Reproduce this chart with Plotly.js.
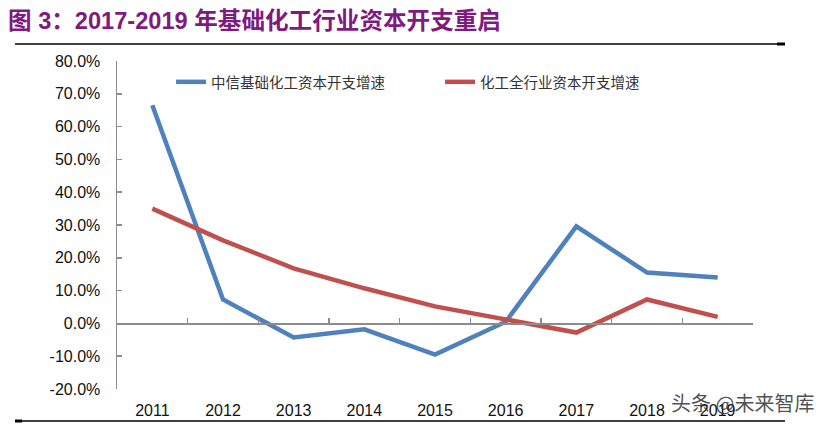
<!DOCTYPE html>
<html>
<head>
<meta charset="utf-8">
<script src="https://cdn.plot.ly/plotly-3.0.1.min.js"></script>
<style>html,body{margin:0;padding:0;background:#fff;}#chart{width:827px;height:425px;}</style>
</head>
<body>
<div id="chart"></div>
<script>
const years = ['2011','2012','2013','2014','2015','2016','2017','2018','2019'];
const citicBasicChem = [66.5, 7.3, -4.3, -1.8, -9.5, 0.5, 29.6, 15.5, 14.0];
const chemWholeIndustry = [35.0, 25.3, 16.8, 10.7, 5.2, 1.2, -2.8, 7.3, 2.0];
const seriesNames = ['中信基础化工资本开支增速', '化工全行业资本开支增速'];
const yTicks = [-20, -10, 0, 10, 20, 30, 40, 50, 60, 70, 80];
const yTickLabels = yTicks.map(v => v.toFixed(1) + '%');
const yMin = -20, yMax = 80;

const fontFamily = 'Liberation Sans, Arial, "Noto Sans CJK SC", sans-serif';

const traces = [
  {x: years, y: citicBasicChem, name: seriesNames[0], type: 'scatter', mode: 'lines',
   line: {color: '#4F81BD', width: 4.5}, xaxis: 'x', yaxis: 'y'},
  {x: years, y: chemWholeIndustry, name: seriesNames[1], type: 'scatter', mode: 'lines',
   line: {color: '#C0504D', width: 4.5}, xaxis: 'x2', yaxis: 'y'}
];

const xRange = [-0.5, years.length - 0.5];

const layout = {
  width: 827, height: 425,
  margin: {l: 117, r: 74, t: 61, b: 36},
  paper_bgcolor: '#ffffff', plot_bgcolor: '#ffffff',
  font: {family: fontFamily, size: 14, color: '#111'},
  showlegend: true,
  legend: {orientation: 'h', x: 0.085, y: 0.985, xanchor: 'left', yanchor: 'top',
           font: {family: '"Noto Sans CJK SC", sans-serif', size: 14.5, color: '#333'},
           entrywidth: 224, entrywidthmode: 'pixels', bgcolor: 'rgba(0,0,0,0)'},
  title: {text: '图 3：2017-2019 年基础化工行业资本开支重启', xref: 'container', yref: 'container',
          x: 8/827, xanchor: 'left', y: 1 - 21/425, yanchor: 'middle',
          font: {family: 'Liberation Sans, Arial, "Noto Sans CJK SC", sans-serif', size: 23.6, color: '#7F1A7F', weight: 'bold'}},
  xaxis: {type: 'category', range: xRange, showgrid: false, zeroline: false, showline: false,
          ticks: 'outside', ticklen: 7, tickcolor: 'rgba(0,0,0,0)',
          tickfont: {size: 16, color: '#111'}, fixedrange: true},
  xaxis2: {type: 'category', overlaying: 'x', matches: 'x', anchor: 'free',
           position: (0 - yMin) / (yMax - yMin),
           showgrid: false, zeroline: false, showline: true, linecolor: '#8c8c8c', linewidth: 1.5,
           ticks: 'inside', tickson: 'boundaries', ticklen: 5, tickcolor: '#8c8c8c', tickwidth: 1.5,
           showticklabels: false},
  yaxis: {range: [yMin, yMax], tickmode: 'array', tickvals: yTicks, ticktext: yTickLabels,
          showgrid: false, zeroline: false, showline: true, linecolor: '#8c8c8c', linewidth: 1.5,
          ticks: 'inside', ticklen: 5, tickcolor: '#8c8c8c', tickwidth: 1.5,
          ticklabelstandoff: 12, tickfont: {size: 16, color: '#111'}, fixedrange: true},
  shapes: [
    {type: 'line', xref: 'paper', yref: 'paper', x0: (15-117)/636, x1: (785-117)/636,
     y0: (389-44)/328, y1: (389-44)/328, line: {color: '#000', width: 1.5}},
    {type: 'line', xref: 'paper', yref: 'paper', x0: (777-117)/636, x1: (785-117)/636,
     y0: (389-44)/328, y1: (389-44)/328, line: {color: '#000', width: 3}},
    {type: 'line', xref: 'paper', yref: 'paper', x0: (15-117)/636, x1: (785-117)/636,
     y0: (389-421)/328, y1: (389-421)/328, line: {color: '#000', width: 1.5}},
    {type: 'line', xref: 'paper', yref: 'paper', x0: (15-117)/636, x1: (22-117)/636,
     y0: (389-421)/328, y1: (389-421)/328, line: {color: '#000', width: 3}}
  ],
  annotations: [
    {text: '头条 @未来智库', xref: 'paper', yref: 'paper', x: (816-117)/636, y: (389-402)/328,
     xanchor: 'right', yanchor: 'middle', showarrow: false,
     font: {family: '"Noto Sans CJK SC", sans-serif', size: 20, color: 'rgba(50,50,50,0.85)'}}
  ]
};

Plotly.newPlot('chart', traces, layout, {displayModeBar: false, staticPlot: true});
</script>
</body>
</html>
